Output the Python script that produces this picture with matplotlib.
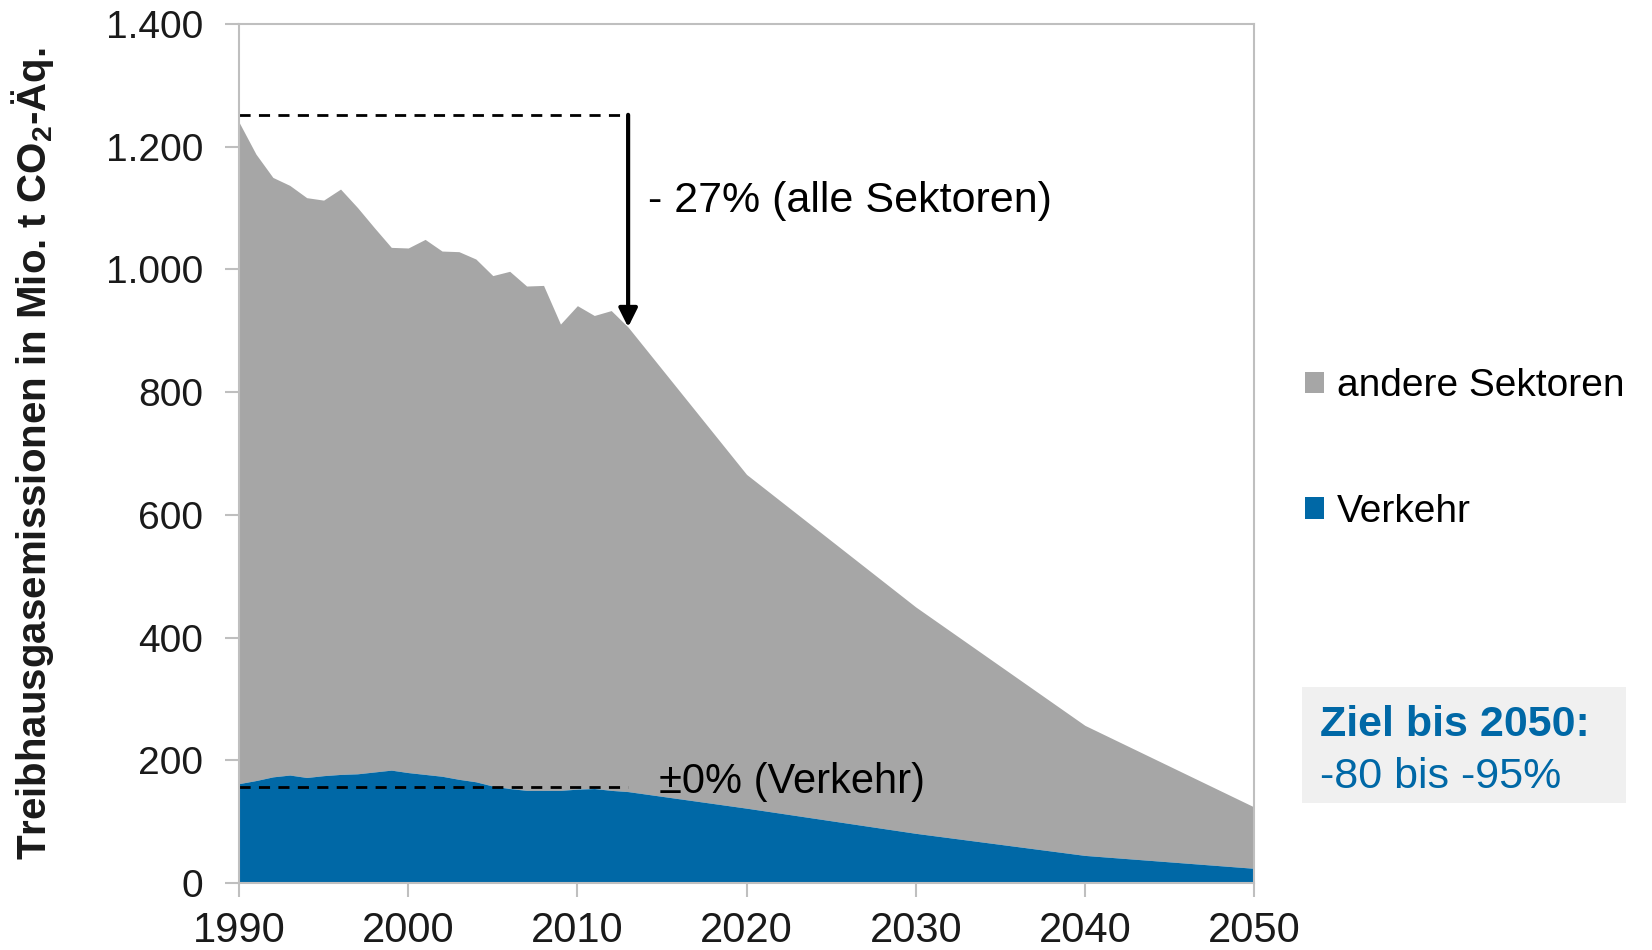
import numpy as np
import matplotlib
matplotlib.use("Agg")
import matplotlib.pyplot as plt
from matplotlib.patches import Patch, Rectangle
from matplotlib.ticker import FuncFormatter

plt.rcParams['font.family'] = ['Liberation Sans', 'DejaVu Sans']
plt.rcParams['mathtext.fontset'] = 'custom'
plt.rcParams['mathtext.rm'] = 'Liberation Sans'
plt.rcParams['mathtext.bf'] = 'Liberation Sans:bold'

# Jahre (Historie bis 2013, danach Zielpfad)
years = [1990, 1991, 1992, 1993, 1994, 1995, 1996, 1997, 1998, 1999,
         2000, 2001, 2002, 2003, 2004, 2005, 2006, 2007, 2008, 2009,
         2010, 2011, 2012, 2013, 2020, 2030, 2040, 2050]

# Gesamtemissionen aller Sektoren (Mio. t CO2-Aeq.)
total = [1240, 1188, 1150, 1137, 1117, 1113, 1131, 1101, 1068, 1036,
         1035, 1049, 1030, 1029, 1017, 990, 997, 973, 974, 911,
         941, 925, 933, 906, 666, 450, 257, 124]

# Verkehr (Mio. t CO2-Aeq.)
verkehr = [162, 167, 173, 176, 172, 175, 177, 178, 181, 184,
           180, 177, 174, 169, 165, 158, 154, 151, 151, 151,
           153, 154, 151, 149, 122, 81, 45, 24]

base_total = 1252
base_verkehr = 157
ref_year = 2013
ref_total = 906

grey = '#a6a6a6'
blue = '#0068a6'
spine_col = '#bfbfbf'

fig = plt.figure(figsize=(16.52, 9.5), dpi=100)
ax = fig.add_axes([0.1447, 0.0705, 0.6144, 0.9042])

ax.fill_between(years, verkehr, total, color=grey, linewidth=0)
ax.fill_between(years, 0, verkehr, color=blue, linewidth=0)

ax.set_xlim(1990, 2050)
ax.set_ylim(0, 1400)
ax.set_xticks(range(1990, 2051, 10))
ax.set_yticks(range(0, 1401, 200))
ax.yaxis.set_major_formatter(FuncFormatter(lambda v, p: f"{v:,.0f}".replace(",", ".")))

for s in ax.spines.values():
    s.set_color(spine_col)
    s.set_linewidth(1.5)
ax.tick_params(axis='both', colors=spine_col, length=10, width=1.5, direction='out')
ax.tick_params(axis='y', labelsize=28, labelcolor='#1a1a1a', pad=16)
ax.tick_params(axis='x', labelsize=30, labelcolor='#1a1a1a', pad=10)

ax.set_ylabel(r'Treibhausgasemissionen in Mio. t CO$_\mathbf{2}$-Äq.',
              fontsize=29, fontweight='bold', color='#1a1a1a')
ax.yaxis.set_label_coords(-0.18, 0.5)

# Referenzlinien
ax.plot([1990, ref_year], [base_total, base_total], color='black',
        linestyle=(0, (4, 3)), linewidth=2)
ax.plot([1990, ref_year], [base_verkehr, base_verkehr], color='black',
        linestyle=(0, (4, 3)), linewidth=2)
ax.annotate('', xy=(ref_year, ref_total), xytext=(ref_year, base_total),
            arrowprops=dict(arrowstyle='-|>', color='black', lw=3,
                            mutation_scale=28, shrinkA=0, shrinkB=0))

ax.text(2014.2, 1112, '- 27% (alle Sektoren)', fontsize=31, va='center', ha='left')
ax.text(2014.8, 164, '±0% (Verkehr)', fontsize=30, va='center', ha='left')

handles = [Patch(facecolor=grey, label='andere Sektoren'),
           Patch(facecolor=blue, label='Verkehr')]
fig.legend(handles=handles, loc='upper left', bbox_to_anchor=(0.769, 0.649),
           frameon=False, fontsize=28, handlelength=0.48, handleheight=0.48,
           handletextpad=0.33, labelspacing=2.3)

# Zielbox
fig.patches.append(Rectangle((0.788, 0.1547), 0.196, 0.122, transform=fig.transFigure,
                             facecolor='#f0f0f0', edgecolor='none'))
fig.text(0.799, 0.2368, 'Ziel bis 2050:', fontsize=31, fontweight='bold',
         color=blue, va='center', ha='left')
fig.text(0.799, 0.1826, '-80 bis -95%', fontsize=31, color=blue,
         va='center', ha='left')

fig.savefig('out.png', dpi=100)
